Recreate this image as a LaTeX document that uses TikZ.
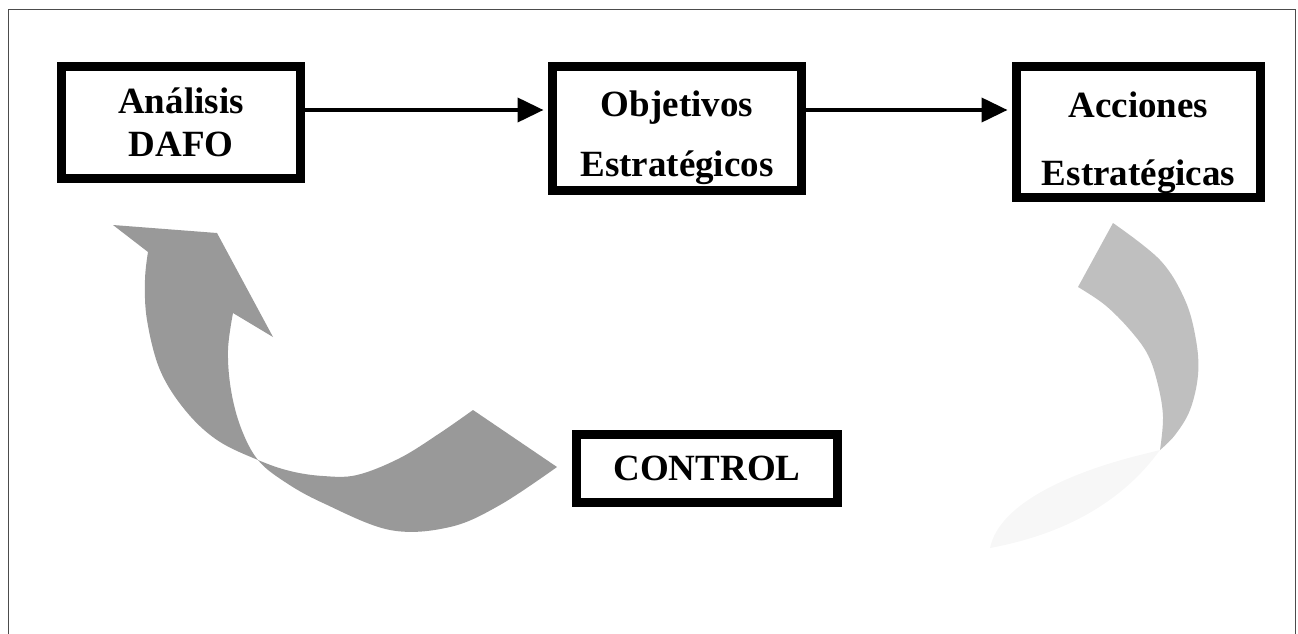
\documentclass[tikz,border=0pt]{standalone}
\usepackage{fontspec}
\setmainfont{Liberation Serif}
\usetikzlibrary{arrows.meta}
\tikzset{
  box/.style={draw=black, line width=9pt, fill=white, align=center, inner sep=0pt,
    font=\fontsize{37}{44}\selectfont\bfseries},
  conn/.style={draw=black, line width=4pt, -{Triangle[length=26pt,width=24pt]}, shorten >=4.5pt},
  ribbon/.style={fill=black!40, draw=none},
  ribbonlight/.style={fill=black!25, draw=none},
  fade/.style={fill=black!3, draw=none},
  frame/.style={draw=black!70, line width=1pt}
}
\begin{document}
\begin{tikzpicture}[x=1pt,y=-1pt]
\useasboundingbox (0,0) rectangle (1298,634);
% outer frame
\draw[frame] (8,640) -- (8,10) -- (1295,10) -- (1295,640);

% gray curved arrows
\fill[ribbon] (113,225) -- (217,233) -- (273,337) -- (233,313)
  -- plot[smooth, tension=0.6] coordinates {(233,313) (228,350) (231,390) (241,428) (258,460) (285,482) (323,503) (390,530) (450,527) (500,505) (557,467)}
  -- (473,410)
  -- plot[smooth, tension=0.6] coordinates {(473,410) (440,433) (400,458) (357,475) (323,476) (290,471) (258,460) (217,440) (185,410) (160,370) (147,320) (145,280) (148,252)}
  -- cycle;
\fill[ribbonlight] (1113,223)
  -- plot[smooth, tension=0.6] coordinates {(1113,223) (1160,260) (1185,300) (1196,340) (1198,375) (1190,410) (1175,435) (1160,450)}
  -- plot[smooth, tension=0.6] coordinates {(1160,450) (1163,417) (1158,385) (1148,355) (1130,330) (1105,305) (1078,287)}
  -- cycle;
\fill[fade] (1160,450) .. controls (1120,505) and (1060,535) .. (990,548)
  .. controls (1000,500) and (1080,470) .. (1140,455) -- cycle;

% boxes
\node[box, minimum width=239pt, minimum height=112pt] (a) at (181,122.5)
  {An\'alisis\\[-1pt]DAFO};
\node[box, minimum width=249pt, minimum height=124pt] (b) at (677,128.5)
  {\rule{0pt}{44pt}Objetivos\\[16pt]Estrat\'egicos};
\node[box, minimum width=244pt, minimum height=131pt] (c) at (1138.5,132)
  {\rule{0pt}{48pt}Acciones\\[24pt]Estrat\'egicas};
\node[box, minimum width=261pt, minimum height=68pt] (d) at (707,468.5) {CONTROL};

% connectors
\coordinate (r) at (0,110);
\draw[conn] (a.east |- r) -- (b.west |- r);
\draw[conn] (b.east |- r) -- (c.west |- r);
\end{tikzpicture}
\end{document}
